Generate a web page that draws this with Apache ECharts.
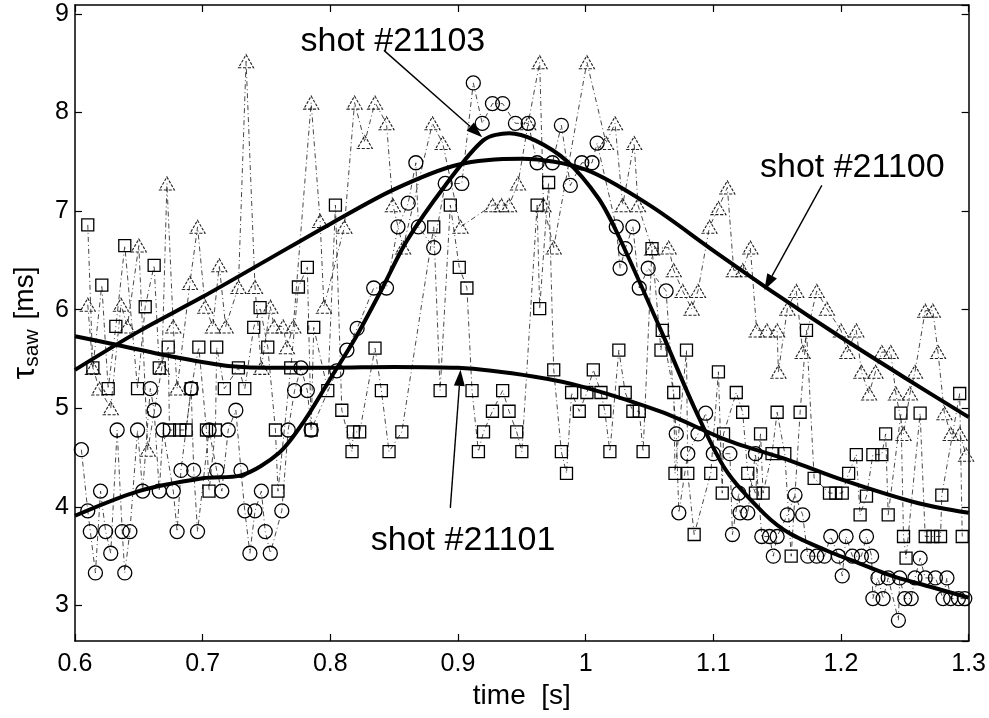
<!DOCTYPE html>
<html><head><meta charset="utf-8">
<script src="https://cdn.jsdelivr.net/npm/echarts/dist/echarts.min.js"></script>
<style>html,body{margin:0;padding:0;background:#fff;}#chart{width:989px;height:718px;}</style>
</head><body><div id="chart"></div>
<script>
// x ticks (time, s) and y range
const xMin = 0.6, xMax = 1.3, xStep = 0.1;
const yMin = 2.64, yMax = 9.09;

// shot #21100 — triangles [time, tau]
const shot21100 = [
[0.610,6.05],[0.614,5.41],[0.619,5.20],[0.628,5.00],[0.636,6.05],[0.641,5.83],[0.650,6.65],[0.657,4.58],
[0.668,5.41],[0.672,7.28],[0.677,5.83],[0.680,5.20],[0.690,6.27],[0.696,6.84],[0.702,6.03],[0.708,5.83],
[0.713,6.45],[0.718,5.83],[0.728,6.23],[0.734,8.52],[0.741,6.23],[0.746,5.41],[0.753,6.03],[0.756,5.83],
[0.763,5.83],[0.766,5.62],[0.771,5.83],[0.785,8.10],[0.792,6.90],[0.795,6.03],[0.811,6.84],[0.819,8.10],
[0.827,7.70],[0.835,8.10],[0.844,7.89],[0.849,7.06],[0.857,6.63],[0.880,7.89],[0.888,7.69],[0.902,6.84],
[0.927,7.06],[0.934,7.06],[0.940,7.06],[0.947,7.28],[0.955,7.89],[0.964,8.51],[0.967,7.06],[0.975,6.63],
[1.001,8.51],[1.016,7.69],[1.023,7.89],[1.029,7.06],[1.038,7.69],[1.041,7.06],[1.052,6.62],[1.065,6.63],
[1.069,6.40],[1.076,6.19],[1.083,6.01],[1.088,6.19],[1.097,6.84],[1.104,7.03],[1.111,7.24],[1.116,6.40],
[1.123,6.40],[1.129,6.63],[1.134,5.79],[1.142,5.79],[1.150,5.79],[1.151,5.37],[1.158,6.01],[1.165,6.19],
[1.170,5.57],[1.181,6.19],[1.189,6.01],[1.200,5.79],[1.205,5.57],[1.212,5.79],[1.216,5.37],[1.222,5.15],
[1.227,5.37],[1.232,5.57],[1.239,5.57],[1.243,5.15],[1.249,4.74],[1.254,5.15],[1.258,5.37],[1.266,5.99],
[1.272,5.99],[1.276,5.57],[1.281,4.95],[1.286,4.74],[1.293,4.74],[1.298,4.53]
];

// shot #21103 — circles
const shot21103 = [
[0.605,4.58],[0.610,3.96],[0.612,3.75],[0.616,3.33],[0.620,4.16],[0.624,3.75],[0.628,3.53],[0.633,4.78],
[0.637,3.75],[0.639,3.33],[0.643,3.75],[0.649,4.78],[0.653,4.16],[0.659,5.20],[0.662,4.98],[0.666,4.16],
[0.669,4.78],[0.677,4.16],[0.680,3.75],[0.683,4.37],[0.691,5.20],[0.693,4.37],[0.696,3.75],[0.705,4.78],
[0.711,4.37],[0.715,4.16],[0.720,4.78],[0.726,4.98],[0.730,4.37],[0.733,3.96],[0.737,3.53],[0.741,3.96],
[0.746,4.16],[0.749,3.75],[0.753,3.53],[0.762,3.96],[0.767,4.78],[0.772,5.18],[0.777,5.41],[0.782,5.18],
[0.785,4.78],[0.805,5.38],[0.813,5.59],[0.821,5.81],[0.834,6.22],[0.844,6.22],[0.853,6.84],[0.861,7.08],
[0.867,7.49],[0.869,6.84],[0.881,6.63],[0.890,7.28],[0.903,7.28],[0.912,8.30],[0.919,7.89],[0.927,8.09],
[0.935,8.09],[0.945,7.89],[0.955,7.89],[0.962,7.49],[0.974,7.49],[0.981,7.87],[0.988,7.26],[0.997,7.49],
[1.005,7.49],[1.009,7.69],[1.024,6.84],[1.027,6.42],[1.031,6.62],[1.037,6.84],[1.042,6.22],[1.049,6.42],
[1.063,6.19],[1.071,4.74],[1.073,3.94],[1.080,4.54],[1.088,4.74],[1.094,4.95],[1.100,4.54],[1.113,4.54],
[1.115,3.72],[1.120,4.14],[1.121,3.94],[1.127,3.94],[1.133,4.54],[1.138,3.70],[1.144,3.70],[1.147,3.50],
[1.150,3.70],[1.158,3.92],[1.164,4.12],[1.170,3.92],[1.174,3.50],[1.181,3.50],[1.187,3.50],[1.192,3.70],
[1.198,3.50],[1.201,3.30],[1.204,3.70],[1.209,3.50],[1.216,3.50],[1.220,3.70],[1.224,3.50],[1.225,3.07],
[1.229,3.28],[1.233,3.07],[1.237,3.28],[1.245,2.85],[1.246,3.28],[1.250,3.07],[1.255,3.07],[1.258,3.28],
[1.262,3.48],[1.266,3.28],[1.274,3.28],[1.280,3.07],[1.283,3.28],[1.286,3.07],[1.292,3.07],[1.297,3.07],
[1.301,3.07]
];

// shot #21101 — squares
const shot21101 = [
[0.610,6.86],[0.614,5.41],[0.621,6.25],[0.626,5.20],[0.632,5.83],[0.639,6.65],[0.649,5.20],[0.655,6.03],
[0.662,6.45],[0.666,5.41],[0.673,5.62],[0.674,4.78],[0.682,4.78],[0.687,4.78],[0.691,5.20],[0.697,5.62],
[0.703,4.78],[0.705,4.16],[0.710,4.78],[0.711,5.62],[0.717,5.20],[0.728,5.41],[0.733,5.20],[0.740,5.82],
[0.745,6.02],[0.751,5.62],[0.757,4.78],[0.759,4.16],[0.769,5.41],[0.775,6.23],[0.782,6.43],[0.785,4.78],
[0.787,5.82],[0.798,5.18],[0.804,7.06],[0.809,4.98],[0.817,4.56],[0.818,4.76],[0.823,4.76],[0.835,5.61],
[0.840,5.18],[0.846,4.56],[0.856,4.76],[0.881,6.84],[0.886,5.18],[0.894,7.06],[0.901,6.43],[0.907,6.22],
[0.911,5.18],[0.916,4.56],[0.920,4.76],[0.927,4.97],[0.935,5.18],[0.940,4.97],[0.946,4.76],[0.950,4.56],
[0.962,7.06],[0.964,6.01],[0.971,7.29],[0.975,5.39],[0.981,4.56],[0.985,4.34],[0.989,5.16],[0.995,4.97],
[1.001,5.16],[1.006,5.39],[1.012,5.16],[1.015,4.97],[1.019,4.56],[1.026,5.59],[1.031,5.16],[1.037,4.97],
[1.042,4.97],[1.045,4.56],[1.052,6.62],[1.059,5.59],[1.060,5.79],[1.069,5.16],[1.070,4.34],[1.079,5.59],
[1.080,4.34],[1.085,3.72],[1.098,4.34],[1.104,5.37],[1.107,4.14],[1.108,4.74],[1.118,5.16],[1.123,4.96],
[1.127,4.34],[1.133,4.14],[1.137,4.74],[1.139,4.14],[1.146,4.54],[1.150,4.96],[1.156,4.54],[1.161,3.50],
[1.168,4.96],[1.173,5.79],[1.179,4.29],[1.191,4.14],[1.196,4.14],[1.201,4.14],[1.206,4.34],[1.212,4.53],
[1.215,3.92],[1.220,4.11],[1.225,4.53],[1.232,4.53],[1.235,4.74],[1.237,3.92],[1.247,4.95],[1.249,3.70],
[1.251,3.48],[1.262,4.95],[1.266,3.70],[1.272,3.70],[1.278,3.70],[1.279,4.12],[1.293,5.15],[1.295,3.70]
];

// smooth fits (thick lines)
const fit21100 = [[0.60,5.39],[0.65,5.78],[0.70,6.13],[0.75,6.50],[0.80,6.87],[0.85,7.22],[0.90,7.47],[0.95,7.53],
[1.00,7.42],[1.05,7.06],[1.10,6.60],[1.15,6.15],[1.20,5.72],[1.25,5.31],[1.30,4.91]];
const fit21103 = [[0.60,3.91],[0.65,4.16],[0.70,4.29],[0.73,4.32],[0.76,4.55],[0.78,4.88],[0.80,5.30],[0.82,5.72],
[0.84,6.20],[0.86,6.70],[0.89,7.26],[0.92,7.72],[0.94,7.79],[0.96,7.72],[0.985,7.51],[1.01,7.13],[1.025,6.77],
[1.06,5.76],[1.085,5.01],[1.11,4.37],[1.14,3.93],[1.16,3.73],[1.19,3.55],[1.21,3.45],[1.24,3.30],[1.27,3.19],[1.30,3.08]];
const fit21101 = [[0.60,5.73],[0.634,5.64],[0.678,5.52],[0.72,5.43],[0.76,5.41],[0.80,5.41],[0.85,5.42],[0.90,5.41],
[0.96,5.32],[1.00,5.21],[1.06,4.96],[1.11,4.68],[1.16,4.47],[1.20,4.28],[1.26,4.04],[1.30,3.94]];

// annotations: label, label centre, arrow start, arrow tip (data coords)
const annLabels = ['shot #21103','shot #21100','shot #21101'];
const annText = [[0.849,8.72],[1.2089,7.44],[0.904,3.66]];
const annFrom = [[0.842,8.63],[1.185,7.26],[0.894,3.99]];
const annTo   = [[0.919,7.75],[1.140,6.20],[0.902,5.39]];

const FONT = '"Liberation Sans", Arial, Helvetica, sans-serif';
const chart = echarts.init(document.getElementById('chart'), null, {renderer:'canvas'});
const byX = a => a.slice().sort((p,q)=>p[0]-q[0]);

function rawSeries(name, data, symbol, size, dashed){
  return {
    name, type:'line', data: byX(data), symbol, symbolSize: size, showSymbol:true,
    xAxisIndex:0, yAxisIndex:0, z:2,
    lineStyle:{color:'#333', width:0.9, type:[5,3,1,3]},
    itemStyle:{color:'rgba(0,0,0,0)', borderColor: dashed ? '#222' : '#000', borderWidth: dashed ? 1.1 : 1.3,
      borderType: dashed ? [3,1.5] : 'solid'},
    emphasis:{disabled:true}, silent:true
  };
}
function fitSeries(name, data){
  return {name, type:'line', data, smooth:0.3, symbol:'none', z:5, xAxisIndex:0, yAxisIndex:0,
    lineStyle:{color:'#000', width:4}, emphasis:{disabled:true}, silent:true};
}
const isInt = v => Math.abs(v - Math.round(v)) < 1e-6;
const axisCommon = {
  axisLine:{show:true, onZero:false, lineStyle:{color:'#000', width:1.5}},
  axisTick:{show:true, inside:true, length:7, lineStyle:{color:'#000', width:1.2}},
  splitLine:{show:false}
};

chart.setOption({
  animation:false,
  backgroundColor:'#fff',
  grid:{left:65, right:18, top:5, bottom:77, containLabel:false},
  xAxis:[
    Object.assign({type:'value', min:xMin, max:xMax, interval:xStep, position:'bottom',
      name:'time  [s]', nameLocation:'middle', nameGap:40,
      nameTextStyle:{fontFamily:FONT, fontSize:28, color:'#000'},
      axisLabel:{fontFamily:FONT, fontSize:25, color:'#000', margin:11,
        formatter: v => String(Math.round(v*10)/10)}}, axisCommon),
    Object.assign({type:'value', min:xMin, max:xMax, interval:xStep, position:'top', axisLabel:{show:false}}, axisCommon)
  ],
  yAxis:[
    Object.assign({type:'value', min:yMin, max:yMax, splitNumber:6, position:'left',
      name:'{tau|τ}{sub|saw}   {u|[ms]}', nameLocation:'middle', nameGap:32, nameRotate:90,
      nameTextStyle:{fontFamily:FONT, color:'#000',
        rich:{tau:{fontFamily:FONT, fontSize:32, color:'#000', lineHeight:36, verticalAlign:'middle'},
              sub:{fontFamily:FONT, fontSize:21, color:'#000', lineHeight:36, verticalAlign:'bottom', padding:[14,0,0,0]},
              u:{fontFamily:FONT, fontSize:28, color:'#000', lineHeight:36, verticalAlign:'middle'}}},
      axisLabel:{fontFamily:FONT, fontSize:25, color:'#000', margin:6, showMinLabel:false, showMaxLabel:false,
        formatter: v => isInt(v) ? String(Math.round(v)) : ''}}, axisCommon),
    Object.assign({type:'value', min:yMin, max:yMax, splitNumber:6, position:'right', axisLabel:{show:false}}, axisCommon)
  ],
  series:[
    rawSeries('21100', shot21100, 'triangle', [15,13], true),
    rawSeries('21103', shot21103, 'circle', 14, false),
    rawSeries('21101', shot21101, 'rect', 12, false),
    fitSeries('fit21100', fit21100),
    fitSeries('fit21103', fit21103),
    fitSeries('fit21101', fit21101)
  ]
});

// annotations: text + arrow, positioned through the chart's own scales
const toPx = p => chart.convertToPixel({xAxisIndex:0, yAxisIndex:0}, p);
const g = [];
annLabels.forEach((lab, i) => {
  const t = toPx(annText[i]), a = toPx(annFrom[i]), b = toPx(annTo[i]);
  g.push({type:'text', x:t[0], y:t[1], z:20,
    style:{text:lab, fill:'#000', font:'34px ' + FONT, align:'center', verticalAlign:'middle'}});
  const dx = b[0]-a[0], dy = b[1]-a[1], L = Math.hypot(dx,dy), ux = dx/L, uy = dy/L;
  const hl = 16, hw = 5.5;
  const bx = b[0]-ux*hl, by = b[1]-uy*hl;
  g.push({type:'line', z:20, shape:{x1:a[0], y1:a[1], x2:bx, y2:by}, style:{stroke:'#000', lineWidth:1.4}});
  g.push({type:'polygon', z:20, shape:{points:[[b[0],b[1]],[bx-uy*hw, by+ux*hw],[bx+uy*hw, by-ux*hw]]},
    style:{fill:'#000'}});
});
chart.setOption({graphic:g});
</script></body></html>
